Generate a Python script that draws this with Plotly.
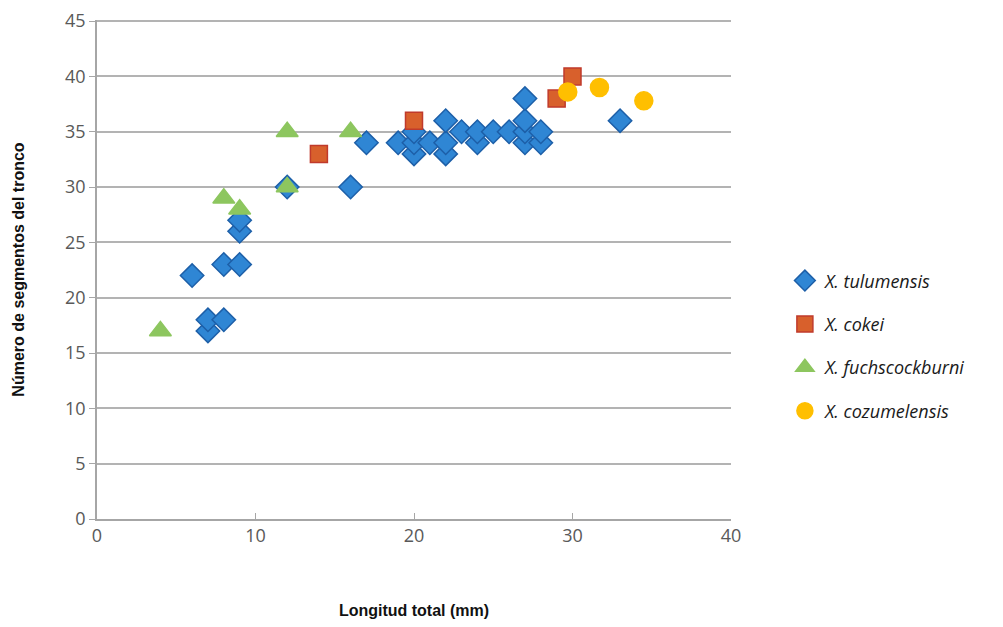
import plotly.graph_objects as go

# X. tulumensis
tul_x = [6, 7, 7, 8, 8, 9, 9, 9, 12, 16, 17, 19, 20, 20, 20, 21, 22, 22, 22, 23,
         24, 24, 25, 26, 27, 27, 27, 27, 28, 28, 33]
tul_y = [22, 17, 18, 18, 23, 23, 26, 27, 30, 30, 34, 34, 33, 34, 35, 34, 33, 34, 36, 35,
         34, 35, 35, 35, 34, 35, 36, 38, 34, 35, 36]

# X. cokei
cok_x = [14, 20, 29, 30]
cok_y = [33, 36, 38, 40]

# X. fuchscockburni
fuc_x = [4, 8, 9, 12, 12, 16]
fuc_y = [17, 29, 28, 35, 30, 35]

# X. cozumelensis
coz_x = [29.7, 31.7, 34.5]
coz_y = [38.6, 39.0, 37.8]

x_ticks = [0, 10, 20, 30, 40]
y_ticks = [0, 5, 10, 15, 20, 25, 30, 35, 40, 45]

fig = go.Figure()

series = [
    ("X. tulumensis", tul_x, tul_y, "diamond", 18, "#2f86d4", "#1d5fa8"),
    ("X. cokei", cok_x, cok_y, "square", 17, "#d8602c", "#c03a2b"),
    ("X. fuchscockburni", fuc_x, fuc_y, "triangle-up", 19, "#8dc65f", "#8dc65f"),
    ("X. cozumelensis", coz_x, coz_y, "circle", 18, "#ffbf00", "#ffbf00"),
]

for i, (name, xs, ys, sym, size, fill, edge) in enumerate(series):
    fig.add_trace(go.Scatter(
        x=xs, y=ys, mode="markers", name=name, legendgroup=str(i),
        marker=dict(symbol=sym, size=size, color=fill, line=dict(color=edge, width=1.5)),
    ))

# page body keeps an 8px margin, so the figure is a bit smaller than the window
fig.update_layout(
    width=995, height=619,
    paper_bgcolor="white", plot_bgcolor="white",
    font=dict(family="Open Sans", size=18, color="#595959"),
    margin=dict(l=89, r=272, t=12, b=108),
    legend=dict(
        x=1.085, y=0.347, xanchor="left", yanchor="middle",
        font=dict(family="Open Sans", size=18, color="#1a1a1a", style="italic"),
        tracegroupgap=17, traceorder="grouped",
    ),
    xaxis=dict(
        range=[0, 40], tickvals=x_ticks, showgrid=False, zeroline=False, automargin=False,
        showline=True, linecolor="#a6a6a6", linewidth=1.5,
        ticks="inside", ticklen=6, tickcolor="#a6a6a6",
        title=dict(text="<b>Longitud total (mm)</b>", standoff=58,
                   font=dict(family="Liberation Sans", size=16, color="#111111")),
    ),
    yaxis=dict(
        range=[0, 45.1], tickvals=y_ticks, showgrid=True, gridcolor="#b3b3b3", gridwidth=1.5,
        zeroline=False, showline=True, linecolor="#a6a6a6", linewidth=1.5, automargin=False,
        ticks="outside", ticklen=6, tickcolor="#a6a6a6",
        title=dict(text="<b>Número de segmentos del tronco</b>", standoff=36,
                   font=dict(family="Liberation Sans", size=16, color="#111111")),
    ),
)

fig.write_html("out.html")
